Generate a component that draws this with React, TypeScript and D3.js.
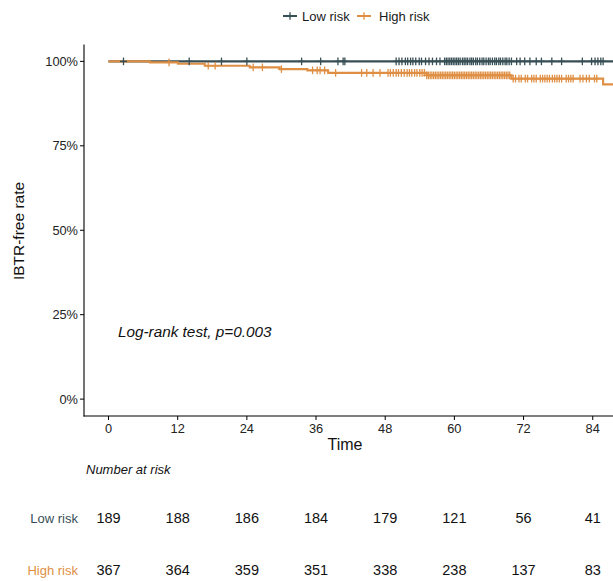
import React from 'react';
import * as d3 from 'd3';

const timeTicks = [0, 12, 24, 36, 48, 60, 72, 84];
const survTicks = [0, 0.25, 0.5, 0.75, 1];
const groupNames = ['Low risk', 'High risk'];
const groupColors = ['#374E55', '#DF8F44'];

const lowEventTimes: number[] = [];
const lowEventSurv: number[] = [];
const highEventTimes = [7.2, 12.05, 16.7, 24.5, 29.7, 34.5, 38.1, 55.2, 69.9, 85.8];
const highEventSurv = [0.997, 0.9932, 0.9873, 0.9823, 0.9772, 0.9734, 0.966, 0.9586, 0.9489, 0.932];

const lowCensorTimes = [2.6, 14.0, 19.6, 24.0, 33.5, 36.8, 39.8, 40.7, 41.0, 49.9, 50.4, 50.9, 51.5, 51.9, 52.4, 52.8, 53.3, 53.9, 54.3, 55.0, 55.6, 56.2, 56.9, 57.5, 58.3, 58.6, 58.9, 59.2, 59.5, 59.8, 60.1, 60.4, 60.7, 61.0, 61.4, 61.7, 62.0, 62.3, 62.7, 63.0, 63.3, 63.7, 64.0, 64.4, 64.8, 65.1, 65.5, 65.9, 66.2, 66.6, 67.0, 67.3, 67.7, 68.0, 68.4, 68.8, 69.1, 69.5, 69.9, 70.8, 71.4, 72.2, 73.1, 74.2, 75.1, 76.9, 78.6, 82.2, 83.8, 84.4, 84.9, 85.4, 85.8];
const highCensorTimes = [10.5, 17.3, 18.5, 25.1, 26.7, 30.0, 35.4, 36.2, 36.7, 37.5, 39.4, 43.9, 44.8, 45.9, 47.1, 48.5, 48.9, 49.4, 49.9, 50.3, 50.8, 51.3, 51.8, 52.2, 52.6, 53.1, 53.5, 54.0, 54.4, 54.8, 55.2, 55.5, 55.8, 56.1, 56.4, 56.7, 57.0, 57.3, 57.6, 57.9, 58.2, 58.5, 58.8, 59.1, 59.4, 59.7, 60.0, 60.3, 60.6, 60.9, 61.2, 61.5, 61.8, 62.1, 62.4, 62.7, 63.0, 63.3, 63.6, 63.9, 64.2, 64.5, 64.8, 65.1, 65.4, 65.7, 66.0, 66.3, 66.6, 66.9, 67.2, 67.5, 67.8, 68.1, 68.4, 68.7, 69.0, 69.3, 69.6, 70.2, 70.6, 71.2, 71.6, 72.3, 72.7, 73.4, 73.8, 74.2, 74.9, 75.3, 75.7, 76.1, 76.5, 77.0, 77.4, 77.8, 78.2, 78.6, 79.4, 79.8, 80.2, 80.6, 81.8, 82.3, 82.9, 83.4, 84.3, 84.7];

const lowAtRisk = [189, 188, 186, 184, 179, 121, 56, 41];
const highAtRisk = [367, 364, 359, 351, 338, 238, 137, 83];
const followUpEnd = 89;

const FONT = '"Liberation Sans", Arial, Helvetica, sans-serif';

function survAt(t: number, times: number[], surv: number[]) {
  let s = 1;
  for (let i = 0; i < times.length; i++) if (times[i] <= t) s = surv[i];
  return s;
}

export default function App() {
  const W = 613, H = 581;
  const x = d3.scaleLinear().domain([-4.25, 89.25]).range([84, 623]);
  const y = d3.scaleLinear().domain([-0.05, 1.05]).range([416, 44.5]);

  const groups = [
    { name: groupNames[0], color: groupColors[0], times: lowEventTimes, surv: lowEventSurv, censor: lowCensorTimes, risk: lowAtRisk },
    { name: groupNames[1], color: groupColors[1], times: highEventTimes, surv: highEventSurv, censor: highCensorTimes, risk: highAtRisk },
  ];

  const line = d3.line<[number, number]>()
    .x(d => x(d[0]))
    .y(d => y(d[1]))
    .curve(d3.curveStepAfter);

  const pathFor = (g: typeof groups[0]) => {
    const pts: [number, number][] = [[0, 1]];
    g.times.forEach((t, i) => pts.push([t, g.surv[i]]));
    pts.push([followUpEnd, g.surv.length ? g.surv[g.surv.length - 1] : 1]);
    return line(pts) || '';
  };

  const cross = (cx: number, cy: number, color: string, key: string) => (
    <g key={key} stroke={color} strokeWidth={1.3}>
      <line x1={cx - 3.5} x2={cx + 3.5} y1={cy} y2={cy} />
      <line x1={cx} x2={cx} y1={cy - 3.8} y2={cy + 3.8} />
    </g>
  );

  return (
    <svg width={W} height={H} style={{ position: 'absolute', left: 0, top: 0, background: '#fff' }} fontFamily={FONT}>
      {/* legend */}
      {groups.map((g, i) => {
        const kx = i === 0 ? 283 : 357;
        const tx = i === 0 ? 302 : 379;
        return (
          <g key={'leg' + i}>
            <line x1={kx} x2={kx + 14} y1={16} y2={16} stroke={g.color} strokeWidth={2} />
            {cross(kx + 7, 16, g.color, 'lc' + i)}
            <text x={tx} y={20.5} fontSize={13} fill="#1a1a1a">{g.name}</text>
          </g>
        );
      })}

      {/* curves */}
      {groups.map((g, i) => (
        <path key={'p' + i} d={pathFor(g)} fill="none" stroke={g.color} strokeWidth={2.1} />
      ))}
      {groups.map((g, i) => (
        <g key={'c' + i}>
          {g.censor.map((t, j) => cross(x(t), y(survAt(t, g.times, g.surv)), g.color, 'c' + i + '-' + j))}
        </g>
      ))}

      {/* axes */}
      <line x1={84} x2={84} y1={44.5} y2={416.5} stroke="#000" strokeWidth={1.1} />
      <line x1={83.5} x2={W} y1={416} y2={416} stroke="#000" strokeWidth={1.1} />
      {survTicks.map(v => (
        <g key={'yt' + v}>
          <line x1={80} x2={84} y1={y(v)} y2={y(v)} stroke="#000" />
          <text x={78} y={y(v) + 4.5} fontSize={12.8} textAnchor="end" fill="#222">{d3.format('.0%')(v)}</text>
        </g>
      ))}
      {timeTicks.map(v => (
        <g key={'xt' + v}>
          <line x1={x(v)} x2={x(v)} y1={416} y2={420} stroke="#000" />
          <text x={x(v)} y={433} fontSize={12.8} textAnchor="middle" fill="#222">{v}</text>
        </g>
      ))}
      <text x={345} y={449.5} fontSize={16} textAnchor="middle" fill="#111">Time</text>
      <text transform="translate(24,231) rotate(-90)" fontSize={15.5} textAnchor="middle" fill="#111">IBTR-free rate</text>

      <text x={118} y={337} fontSize={15.3} fontStyle="italic" fill="#111">Log-rank test, p=0.003</text>

      {/* risk table */}
      <text x={86} y={474} fontSize={13} fontStyle="italic" fill="#111">Number at risk</text>
      {groups.map((g, i) => {
        const ry = i === 0 ? 522.5 : 574.5;
        return (
          <g key={'r' + i}>
            <text x={78} y={ry} fontSize={13} textAnchor="end" fill={g.color}>{g.name}</text>
            {g.risk.map((n, j) => (
              <text key={j} x={x(timeTicks[j])} y={ry} fontSize={14.5} textAnchor="middle" fill="#111">{n}</text>
            ))}
          </g>
        );
      })}
    </svg>
  );
}
